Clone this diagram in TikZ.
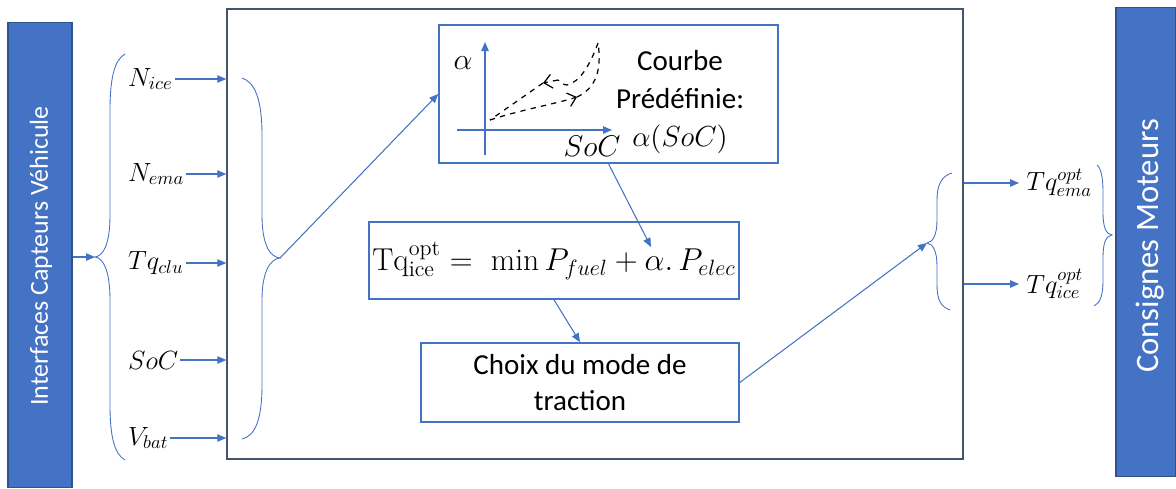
\RequirePackage{fix-cm}
\documentclass[tikz,border=0pt]{standalone}
\usepackage{fontspec}
\newfontfamily\calib{Carlito}
\usepackage{tikz}
\usetikzlibrary{arrows.meta,calc,positioning}
\definecolor{barblue}{HTML}{4472C4}
\definecolor{edgeblue}{HTML}{2F528F}
\definecolor{framegray}{HTML}{44546A}

\begin{document}
\begin{tikzpicture}[x=0.02cm,y=-0.02cm,
  bar/.style={fill=barblue,draw=edgeblue,line width=0.6pt},
  bartxt/.style={rotate=90,text=white,font=\calib\fontsize{#1}{#1}\selectfont},
  bx/.style={draw=barblue,line width=0.9pt,inner sep=0pt},
  lbl/.style={font=\fontsize{15}{17}\selectfont,inner sep=1pt,anchor=west},
  ar/.style={-{Triangle[length=1.8mm,width=1.5mm]},barblue,line width=0.6pt},
  brc/.style={barblue,line width=0.5pt},
  dsh/.style={dashed,line width=0.7pt}]
\useasboundingbox (0,0) rectangle (1176,488);
% side bars
\node[bar,minimum width=1.28cm,minimum height=9.32cm] (lbar) at (40,255) {};
\node[bartxt=14.8] (ltxt) at (41,256) {Interfaces Capteurs Véhicule};
\node[bar,minimum width=1.2cm,minimum height=9.4cm] (rbar) at (1146,242) {};
\node[bartxt=18.6] (rtxt) at (1150,246) {Consignes Moteurs};
% main block
\node[draw=framegray,line width=0.9pt,minimum width=14.72cm,minimum height=9cm] (main) at (595,234) {};
\node[bx,minimum width=6.78cm,minimum height=2.76cm] (abox) at (608.5,94) {};
\node[bx,minimum width=7.4cm,minimum height=1.54cm,font=\fontsize{18}{22}\selectfont] (form) at (554,260.5)
  {$\mathrm{Tq}^{\mathrm{opt}}_{\mathrm{ice}} =\ \min P_{fuel} + \alpha.\,P_{elec}$};
\node[bx,minimum width=6.36cm,minimum height=1.58cm,align=center,font=\calib\fontsize{16.5}{21}\selectfont] (choice) at (580,382.5)
  {Choix du mode de\\traction};
% curve inside abox
\node[font=\calib\fontsize{16.5}{21.5}\selectfont,align=center] (courbe) at (680,102)
  {Courbe\\Prédéfinie:\\$\alpha(SoC)$};
\node[font=\fontsize{17}{20}\selectfont] (alab) at (463,63) {$\alpha$};
\node[font=\fontsize{17}{20}\selectfont] (slab) at (592,146) {$SoC$};
\draw[ar] (485,155) -- (485,42);
\draw[ar] (457,130) -- (612,130);
\draw[dsh,-{Straight Barb[length=1.6mm,width=2.8mm]}] (490,120) .. controls (520,110) and (555,104) .. (577,97);
\draw[dsh] (577,97) .. controls (596,88) and (602,70) .. (598,43);
\draw[dsh] (598,43) .. controls (590,65) and (580,82) .. (567,85) .. controls (563,85) and (561,82) .. (558,80);
\draw[dsh,-{Straight Barb[length=1.6mm,width=2.8mm]}] (558,80) -- (543,83);
\draw[dsh] (543,83) -- (490,120);
% inputs
\node[lbl] (nice) at (126,79) {$N_{ice}$};
\node[lbl] (nema) at (126,174) {$N_{ema}$};
\node[lbl] (tqclu) at (126,263) {$Tq_{clu}$};
\node[lbl] (soc) at (126,360) {$SoC$};
\node[lbl] (vbat) at (126,438) {$V_{bat}$};
\draw[ar] (nice.east) -- (nice.east -| main.west);
\draw[ar] (nema.east) -- (nema.east -| main.west);
\draw[ar] (tqclu.east) -- (tqclu.east -| main.west);
\draw[ar] (soc.east) -- (soc.east -| main.west);
\draw[ar] (vbat.east) -- (vbat.east -| main.west);
% outputs
\node[lbl,inner xsep=4pt] (tqema) at (1019,183) {$Tq^{opt}_{ema}$};
\node[lbl,inner xsep=4pt] (tqice) at (1019,284) {$Tq^{opt}_{ice}$};
\draw[ar] (main.east |- tqema) -- (tqema.west);
\draw[ar] (main.east |- tqice) -- (tqice.west);
% braces
\coordinate (ltip) at (95,257);
\coordinate (itip) at (280,258);
\coordinate (rtip) at (927,243);
\coordinate (otip) at (1112,235);
\coordinate (fa) at (651,247);
\draw[brc] (125,54) .. controls (114,60) and (110,80) .. (110,110) -- (110,215)
  .. controls (110,245) and (103,256) .. (ltip) .. controls (103,258) and (110,270) .. (110,300)
  -- (110,405) .. controls (110,435) and (114,454) .. (125,460);
\draw[brc] (242,78) .. controls (255,82) and (262,100) .. (262,135) -- (262,215)
  .. controls (262,245) and (270,257) .. (itip) .. controls (270,259) and (262,272) .. (262,300)
  -- (262,385) .. controls (262,420) and (255,436) .. (242,439);
\draw[brc] (952,173) .. controls (941,176) and (937,186) .. (937,200) -- (937,220)
  .. controls (937,235) and (933,242) .. (rtip) .. controls (933,244) and (937,251) .. (937,266)
  -- (937,285) .. controls (937,300) and (941,307) .. (950,310);
\draw[brc] (1097,165) .. controls (1101,168) and (1103,178) .. (1103,192) -- (1103,212)
  .. controls (1103,228) and (1106,234) .. (otip) .. controls (1106,236) and (1103,242) .. (1103,258)
  -- (1103,280) .. controls (1103,296) and (1100,303) .. (1094,306);
% flow
\draw[ar] (lbar.east |- ltip) -- (ltip);
\draw[ar] (itip) -- (abox.west);
\draw[ar] (abox.south) -- (fa);
\draw[ar] (form.south) -- (choice.north);
\draw[ar] (choice.east) -- (rtip);
\end{tikzpicture}
\end{document}
